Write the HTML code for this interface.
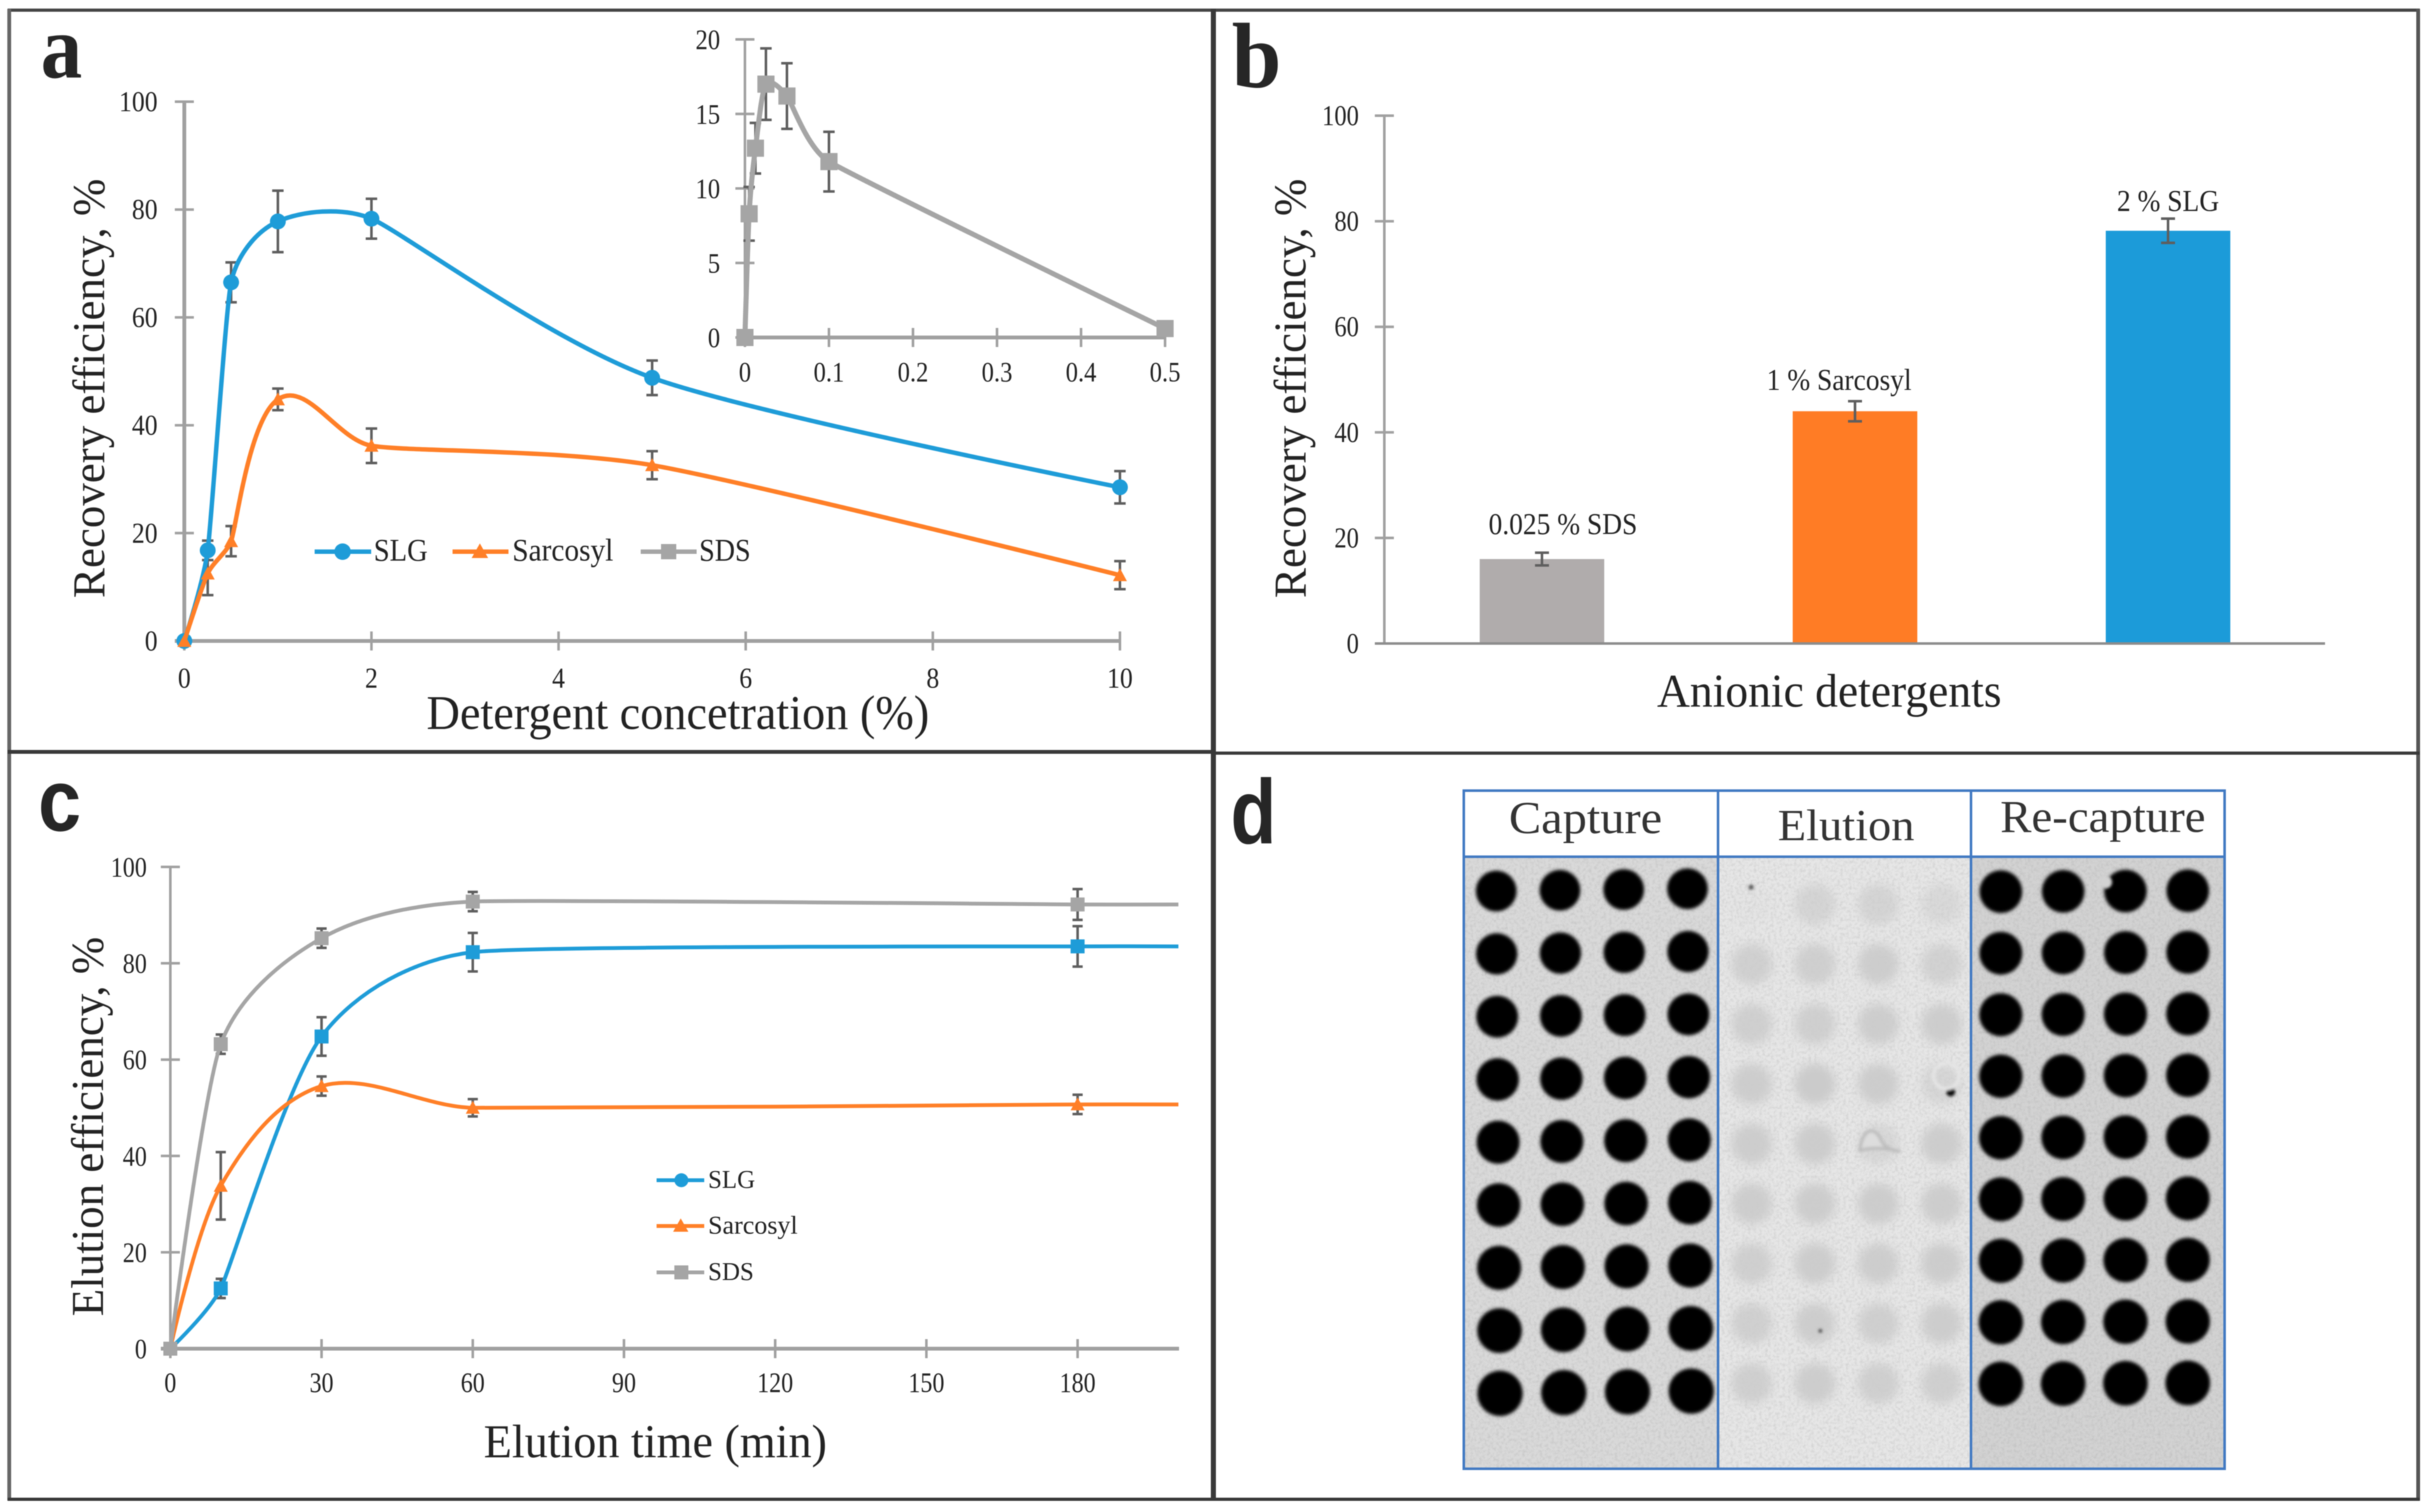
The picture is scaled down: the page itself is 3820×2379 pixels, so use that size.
<!DOCTYPE html>
<html lang="en">
<head>
<meta charset="utf-8">
<title>Detergent recovery and elution efficiency figure</title>
<style>
html,body{margin:0;padding:0;background:#fff;}
#figure{display:block;width:3820px;height:2379px;filter:blur(0.9px);}
text{font-family:"Liberation Serif",serif;fill:#222;}
.sans{font-family:"Liberation Sans",sans-serif;font-weight:bold;fill:#262626;}
</style>
</head>
<body>
<svg id="figure" xmlns="http://www.w3.org/2000/svg" width="3820" height="2379" viewBox="0 0 3820 2379">
  <defs>
    <filter id="softDot" x="-30%" y="-30%" width="160%" height="160%"><feGaussianBlur stdDeviation="2.6"/></filter>
    <filter id="softFaint" x="-40%" y="-40%" width="180%" height="180%"><feGaussianBlur stdDeviation="7.5"/></filter>
    <filter id="softMark" x="-40%" y="-40%" width="180%" height="180%"><feGaussianBlur stdDeviation="2"/></filter>
    <filter id="grain" x="0" y="0" width="100%" height="100%">
      <feTurbulence type="fractalNoise" baseFrequency="0.22" numOctaves="2" seed="4"/>
      <feColorMatrix type="matrix" values="0 0 0 0 0.3  0 0 0 0 0.3  0 0 0 0 0.3  1.5 0 0 0 -0.62"/>
    </filter>
  </defs>
  <rect x="0" y="0" width="3820" height="2379" fill="#ffffff"/>

  <g fill="none">
    <path d="M12 16H3807" stroke="#444" stroke-width="5"/>
    <path d="M14.5 14V2361" stroke="#666" stroke-width="6"/>
    <path d="M3804.5 14V2361" stroke="#555" stroke-width="6"/>
    <path d="M12 2359H3807" stroke="#383838" stroke-width="5"/>
    <path d="M1909 14V2361" stroke="#383838" stroke-width="8"/>
    <path d="M12 1183H1909" stroke="#383838" stroke-width="6"/>
    <path d="M1909 1185H3807" stroke="#383838" stroke-width="5"/>
  </g>

  <!-- Panel letters -->
  <text transform="translate(64,122) scale(0.92,1)" font-size="142" font-weight="bold" style="fill:#262626">a</text>
  <text transform="translate(1938,137) scale(0.96,1)" font-size="146" font-weight="bold" style="fill:#262626">b</text>
  <text class="sans" transform="translate(60,1307) scale(0.88,1)" font-size="138">c</text>
  <text class="sans" transform="translate(1936,1327) scale(0.82,1)" font-size="144">d</text>

  <!-- Axis titles -->
  <text transform="translate(164,941) rotate(-90)" font-size="72" textLength="660" lengthAdjust="spacingAndGlyphs">Recovery efficiency, %</text>
  <text x="671" y="1147" font-size="76" textLength="791" lengthAdjust="spacingAndGlyphs">Detergent concetration (%)</text>
  <text transform="translate(2054,941) rotate(-90)" font-size="72" textLength="660" lengthAdjust="spacingAndGlyphs">Recovery efficiency, %</text>
  <text x="2607" y="1112" font-size="74" textLength="542" lengthAdjust="spacingAndGlyphs">Anionic detergents</text>
  <text transform="translate(162,2071) rotate(-90)" font-size="72" textLength="597" lengthAdjust="spacingAndGlyphs">Elution efficiency, %</text>
  <text x="761" y="2293" font-size="74" textLength="540" lengthAdjust="spacingAndGlyphs">Elution time (min)</text>

  <!-- Chart layers filled by script -->
  <g id="panelA"></g>
  <g id="panelAInset"></g>
  <g id="panelB"></g>
  <g id="panelC"></g>

  <!-- Legends -->
  <g>
    <g>
      <path d="M495 868H584" stroke="#1e9cd8" stroke-width="7"/>
      <circle cx="539" cy="868" r="13" fill="#1e9cd8"/>
      <text x="588" y="882" font-size="50" textLength="85" lengthAdjust="spacingAndGlyphs">SLG</text>
    </g>
    <g>
      <path d="M712 868H800" stroke="#ff7f27" stroke-width="7"/>
      <path d="M755 855L768 878H742Z" fill="#ff7f27"/>
      <text x="806" y="882" font-size="50" textLength="159" lengthAdjust="spacingAndGlyphs">Sarcosyl</text>
    </g>
    <g>
      <path d="M1008 868H1096" stroke="#a5a5a5" stroke-width="7"/>
      <rect x="1040" y="856" width="24" height="24" fill="#a5a5a5"/>
      <text x="1100" y="882" font-size="50" textLength="81" lengthAdjust="spacingAndGlyphs">SDS</text>
    </g>
  </g>
  <g>
    <g>
      <path d="M1033 1857H1108" stroke="#1e9cd8" stroke-width="6"/>
      <circle cx="1072" cy="1857" r="11" fill="#1e9cd8"/>
      <text x="1114" y="1869" font-size="40" textLength="74" lengthAdjust="spacingAndGlyphs">SLG</text>
    </g>
    <g>
      <path d="M1033 1929H1108" stroke="#ff7f27" stroke-width="6"/>
      <path d="M1071 1917L1083 1938H1059Z" fill="#ff7f27"/>
      <text x="1114" y="1941" font-size="40" textLength="141" lengthAdjust="spacingAndGlyphs">Sarcosyl</text>
    </g>
    <g>
      <path d="M1033 2002H1108" stroke="#a5a5a5" stroke-width="6"/>
      <rect x="1061" y="1991" width="22" height="22" fill="#a5a5a5"/>
      <text x="1114" y="2014" font-size="40" textLength="72" lengthAdjust="spacingAndGlyphs">SDS</text>
    </g>
  </g>

  <!-- Panel d: dot blot -->
  <g>
    <rect x="2303" y="1348" width="400" height="963" fill="#d9d9d9"/>
    <rect x="2703" y="1348" width="398" height="963" fill="#e6e6e6"/>
    <rect x="3101" y="1348" width="399" height="963" fill="#d2d2d2"/>
    <rect x="2303" y="1348" width="1197" height="963" filter="url(#grain)" opacity="0.35"/>
    <g id="blotFaint" filter="url(#softFaint)"></g>
    <g id="blotDark" filter="url(#softDot)"></g>
    <g filter="url(#softMark)">
      <circle cx="3313" cy="1388" r="10" fill="#d2d2d2"/>
      <circle cx="2755" cy="1396" r="4" fill="#555"/>
      <circle cx="3069" cy="1718" r="7" fill="#111"/>
      <circle cx="2864" cy="2094" r="3" fill="#444"/>
      <circle cx="3062" cy="1693" r="20" fill="none" stroke="#e6e6e6" stroke-width="5"/>
      <path d="M2926 1810C2930 1775 2950 1770 2960 1795C2965 1805 2975 1810 2990 1812C2965 1805 2945 1805 2926 1810Z" fill="#dddddd" stroke="#bdbdbd" stroke-width="5"/>
    </g>
    <rect x="2303" y="1244" width="1197" height="104" fill="#ffffff"/>
    <text x="2374" y="1311" font-size="72" textLength="241" lengthAdjust="spacingAndGlyphs" style="fill:#333">Capture</text>
    <text x="2797" y="1322" font-size="70" textLength="215" lengthAdjust="spacingAndGlyphs" style="fill:#333">Elution</text>
    <text x="3147" y="1309" font-size="72" textLength="323" lengthAdjust="spacingAndGlyphs" style="fill:#333">Re-capture</text>
    <path d="M2303 1244H3500V2311H2303ZM2303 1348H3500M2703 1244V2311M3101 1244V2311" fill="none" stroke="#4179c2" stroke-width="4"/>
  </g>
</svg>

<script>
// ---------- Panel a data ----------
const concentrationsA = [0, 0.25, 0.5, 1, 2, 5, 10];
const slgRecoveryA = [0, 16.8, 66.5, 77.8, 78.3, 48.8, 28.5];
const slgErrorA = [0, 1.8, 3.7, 5.7, 3.7, 3.2, 3.0];
const sarcosylRecoveryA = [0, 12.5, 18.5, 44.8, 36.2, 32.6, 12.2];
const sarcosylErrorA = [0, 4.0, 2.8, 2.0, 3.2, 2.6, 2.6];
const xTicksA = [0, 2, 4, 6, 8, 10];
const yTicksA = [0, 20, 40, 60, 80, 100];

// ---------- Panel a inset data ----------
const concentrationsInset = [0, 0.005, 0.0125, 0.025, 0.05, 0.1, 0.5];
const sdsRecoveryInset = [0, 8.3, 12.7, 17, 16.2, 11.8, 0.6];
const sdsErrorInset = [0, 1.8, 1.7, 2.4, 2.2, 2.0, 0.3];
const xTicksInset = [0, 0.1, 0.2, 0.3, 0.4, 0.5];
const yTicksInset = [0, 5, 10, 15, 20];

// ---------- Panel b data ----------
const detergentLabelsB = ["0.025 % SDS", "1 % Sarcosyl", "2 % SLG"];
const recoveryB = [16, 44, 78.2];
const errorB = [1.2, 1.9, 2.3];
const yTicksB = [0, 20, 40, 60, 80, 100];

// ---------- Panel c data (the final point carries the line to the axis end, without a marker) ----------
const timesC = [0, 10, 30, 60, 180, 200];
const slgElutionC = [0, 12.5, 64.8, 82.3, 83.5, 83.5];
const slgErrorC = [0, 2, 4, 4, 4.2, 0];
const sarcosylElutionC = [0, 33.8, 54.5, 50, 50.7, 50.7];
const sarcosylErrorC = [0, 7, 2, 1.8, 2, 0];
const sdsElutionC = [0, 63.2, 85.2, 92.8, 92.2, 92.2];
const sdsErrorC = [0, 2, 2, 2, 3.2, 0];
const xTicksC = [0, 30, 60, 90, 120, 150, 180];
const yTicksC = [0, 20, 40, 60, 80, 100];

// ---------- Panel d spot signal (relative intensity per row, per column) ----------
const elutionSignal = [
  [0.1, 0.65, 0.65, 0.5],
  [0.8, 0.85, 0.9, 0.75],
  [0.85, 0.85, 0.9, 0.9],
  [0.9, 1, 0.95, 0.6],
  [0.9, 0.95, 0.55, 0.9],
  [0.9, 0.95, 0.95, 0.9],
  [0.85, 0.95, 0.9, 0.95],
  [0.8, 0.9, 0.85, 0.9],
  [0.85, 0.9, 0.85, 0.85]
];

const SVGNS = "http://www.w3.org/2000/svg";
const BLUE = "#1e9cd8", ORANGE = "#ff7f27", GRAY = "#a5a5a5", ERR = "#5e5e5e", AXIS = "#a0a0a0";

// Axis functions
const xA = v => 290 + v * 147.2;
const yA = v => 1008.5 - v * 8.485;
const xI = v => 1172 + v * 1322;
const yI = v => 531 - v * 23.45;
const xB = i => 2426 + i * 492.5;
const yB = v => 1012.5 - v * 8.305;
const xC = v => 268 + v * 7.93;
const yC = v => 2122 - v * 7.58;

function make(parent, tag, name, attrs) {
  const el = document.createElementNS(SVGNS, tag);
  
  
  for (const k in attrs) el.setAttribute(k, attrs[k]);
  parent.appendChild(el);
  return el;
}

function label(parent, name, x, y, str, size, anchor, sx) {
  const el = make(parent, 'text', name, {
    transform: 'translate(' + x + ',' + y + ') scale(' + sx + ',1)',
    'font-size': size,
    'text-anchor': anchor
  });
  el.textContent = str;
  return el;
}

// Spreadsheet-style smoothed line: the tangent at each point follows its neighbours,
// with handle length limited by the shorter adjoining segment.
function dist(a, b) { return Math.hypot(b[0] - a[0], b[1] - a[1]); }
function handle(prev, cur, next) {
  const span = dist(prev, next);
  if (!span) return [0, 0];
  const len = Math.min(dist(prev, cur), dist(cur, next)) / 3;
  return [(next[0] - prev[0]) / span * len, (next[1] - prev[1]) / span * len];
}
function smoothPath(pts) {
  let d = 'M' + pts[0][0] + ' ' + pts[0][1];
  for (let i = 0; i < pts.length - 1; i++) {
    const p0 = pts[Math.max(i - 1, 0)], p1 = pts[i], p2 = pts[i + 1], p3 = pts[Math.min(i + 2, pts.length - 1)];
    const h1 = handle(p0, p1, p2), h2 = handle(p1, p2, p3);
    d += 'C' + (p1[0] + h1[0]) + ' ' + (p1[1] + h1[1]) + ' ' + (p2[0] - h2[0]) + ' ' + (p2[1] - h2[1]) + ' ' + p2[0] + ' ' + p2[1];
  }
  return d;
}

function errorBars(parent, seriesName, xs, ys, errs, xf, yf, cap, width) {
  xs.forEach((v, i) => {
    if (!errs[i]) return;
    const x = xf(v), t = yf(ys[i] + errs[i]), b = yf(ys[i] - errs[i]);
    make(parent, 'path', seriesName + '-error-bar', {
      d: 'M' + x + ' ' + t + 'V' + b + 'M' + (x - cap) + ' ' + t + 'H' + (x + cap) + 'M' + (x - cap) + ' ' + b + 'H' + (x + cap),
      stroke: ERR, 'stroke-width': width, fill: 'none'
    });
  });
}

function marker(parent, name, kind, x, y, s, color) {
  if (kind === 'circle') {
    make(parent, 'circle', name, { cx: x, cy: y, r: s, fill: color });
  } else if (kind === 'triangle') {
    make(parent, 'path', name, { d: 'M' + x + ' ' + (y - s) + 'L' + (x + s) + ' ' + (y + s * 0.85) + 'H' + (x - s) + 'Z', fill: color });
  } else {
    make(parent, 'rect', name, { x: x - s, y: y - s, width: 2 * s, height: 2 * s, fill: color });
  }
}

function series(parent, seriesName, xs, ys, xf, yf, color, kind, size, width, markerCount) {
  const pts = xs.map((v, i) => [xf(v), yf(ys[i])]);
  make(parent, 'path', seriesName + '-line', { d: smoothPath(pts), fill: 'none', stroke: color, 'stroke-width': width });
  for (let i = 0; i < markerCount; i++) {
    marker(parent, seriesName + '-marker', kind, pts[i][0], pts[i][1], size, color);
  }
}

function yAxis(parent, prefix, x, yf, ticks, fmtRight, axisW, size, sx) {
  make(parent, 'line', prefix + '-y-axis', {
    x1: x, x2: x, y1: yf(ticks[ticks.length - 1]), y2: yf(ticks[0]), stroke: AXIS, 'stroke-width': axisW
  });
  ticks.forEach(t => {
    make(parent, 'line', prefix + '-y-tick', { x1: x - 15, x2: x + 15, y1: yf(t), y2: yf(t), stroke: AXIS, 'stroke-width': 4 });
    label(parent, prefix + '-y-tick-label', fmtRight, yf(t) + 15, String(t), size, 'end', sx);
  });
}

function xAxis(parent, prefix, xf, yPos, ticks, x1, x2, half, labelY, axisW, size, sx) {
  make(parent, 'line', prefix + '-x-axis', { x1: x1, x2: x2, y1: yPos, y2: yPos, stroke: AXIS, 'stroke-width': axisW });
  ticks.forEach(t => {
    make(parent, 'line', prefix + '-x-tick', { x1: xf(t), x2: xf(t), y1: yPos - half, y2: yPos + half, stroke: AXIS, 'stroke-width': 4 });
    label(parent, prefix + '-x-tick-label', xf(t), labelY, String(t), size, 'middle', sx);
  });
}

// Panel a
const gA = document.getElementById('panelA');
yAxis(gA, 'panel-a', xA(0), yA, yTicksA, 248, 6, 46, 0.88);
xAxis(gA, 'panel-a', xA, yA(0), xTicksA, xA(0) - 15, xA(10), 15, 1082, 6, 46, 0.88);
errorBars(gA, 'slg', concentrationsA, slgRecoveryA, slgErrorA, xA, yA, 9, 4);
errorBars(gA, 'sarcosyl', concentrationsA, sarcosylRecoveryA, sarcosylErrorA, xA, yA, 9, 4);
series(gA, 'slg', concentrationsA, slgRecoveryA, xA, yA, BLUE, 'circle', 12.5, 7, concentrationsA.length);
series(gA, 'sarcosyl', concentrationsA, sarcosylRecoveryA, xA, yA, ORANGE, 'triangle', 11, 7, concentrationsA.length);

// Panel a inset
const gI = document.getElementById('panelAInset');
yAxis(gI, 'inset', xI(0), yI, yTicksInset, 1133, 4, 44, 0.88);
xAxis(gI, 'inset', xI, yI(0), xTicksInset, xI(0), xI(0.5), 15, 600, 6, 44, 0.88);
errorBars(gI, 'sds', concentrationsInset, sdsRecoveryInset, sdsErrorInset, xI, yI, 9, 4);
series(gI, 'sds', concentrationsInset, sdsRecoveryInset, xI, yI, GRAY, 'square', 13.5, 8, concentrationsInset.length);

// Panel b
const gB = document.getElementById('panelB');
const barColors = ["#b0acac", "#ff7c25", "#1c9bd9"];
const labelShift = [[33, 29], [-25, 18], [0, 12]];
yAxis(gB, 'panel-b', 2178, yB, yTicksB, 2138, 4, 46, 0.84);
recoveryB.forEach((v, i) => {
  make(gB, 'rect', 'bar-' + i, { x: xB(i) - 98, y: yB(v), width: 196, height: yB(0) - yB(v), fill: barColors[i] });
});
make(gB, 'line', 'panel-b-x-axis', { x1: 2163, x2: 3658, y1: yB(0), y2: yB(0), stroke: '#8c8c8c', 'stroke-width': 4 });
recoveryB.forEach((v, i) => {
  const x = xB(i), t = yB(v + errorB[i]), b = yB(v - errorB[i]);
  make(gB, 'path', 'bar-error-bar-' + i, {
    d: 'M' + x + ' ' + t + 'V' + b + 'M' + (x - 11) + ' ' + t + 'H' + (x + 11) + 'M' + (x - 11) + ' ' + b + 'H' + (x + 11),
    stroke: ERR, 'stroke-width': 4, fill: 'none'
  });
  label(gB, 'bar-label-' + i, x + labelShift[i][0], t - labelShift[i][1], detergentLabelsB[i], 48, 'middle', 0.9);
});

// Panel c
const gC = document.getElementById('panelC');
yAxis(gC, 'panel-c', xC(0), yC, yTicksC, 231, 4, 44, 0.86);
xAxis(gC, 'panel-c', xC, yC(0), xTicksC, xC(0) - 15, 1855, 15, 2190, 6, 44, 0.86);
errorBars(gC, 'sds', timesC, sdsElutionC, sdsErrorC, xC, yC, 8, 4);
errorBars(gC, 'slg', timesC, slgElutionC, slgErrorC, xC, yC, 8, 4);
errorBars(gC, 'sarcosyl', timesC, sarcosylElutionC, sarcosylErrorC, xC, yC, 8, 4);
series(gC, 'slg', timesC, slgElutionC, xC, yC, BLUE, 'square', 11, 6, 5);
series(gC, 'sarcosyl', timesC, sarcosylElutionC, xC, yC, ORANGE, 'triangle', 11, 6, 5);
series(gC, 'sds', timesC, sdsElutionC, xC, yC, GRAY, 'square', 11, 6, 5);

// Panel d: spots placed on a slightly skewed 9 x 4 membrane grid
const blotDark = document.getElementById('blotDark');
const blotFaint = document.getElementById('blotFaint');
for (let r = 0; r < 9; r++) {
  for (let c = 0; c < 4; c++) {
    make(blotDark, 'circle', 'capture-spot', {
      cx: 2354 + c * 100.3 + r * 0.75, cy: 1402 + r * 98.8 - c * 1.2, r: 32 + r * 0.45, fill: '#000'
    });
    make(blotDark, 'circle', 'recapture-spot', {
      cx: 3148 + c * 98, cy: 1403 + r * 96.8 - c * 0.5, r: 33.5 + r * 0.2, fill: '#000'
    });
    make(blotFaint, 'circle', 'elution-spot', {
      cx: 2756 + c * 99.5, cy: 1423 + r * 94.2, r: 32, fill: '#cbcbcb', opacity: elutionSignal[r][c]
    });
  }
}
</script>
</body>
</html>
